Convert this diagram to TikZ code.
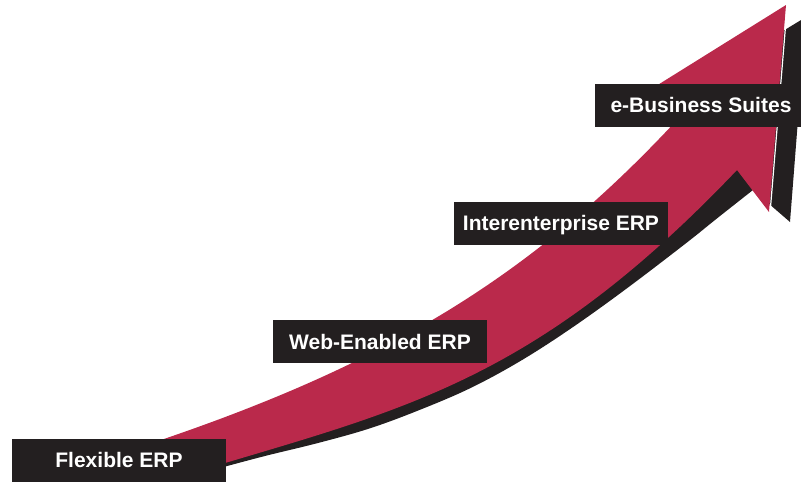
\documentclass[tikz,border=0pt]{standalone}
\usepackage{fontspec}
\setmainfont{Liberation Sans}
\definecolor{arrowred}{RGB}{186,41,75}
\definecolor{inkblack}{RGB}{35,31,32}
\begin{document}
\begin{tikzpicture}[x=1pt,y=-1pt,
  labelbox/.style={fill=inkblack, text=white, font=\fontsize{21}{24}\selectfont\bfseries,
    minimum width=214pt, minimum height=43pt, inner sep=0pt, text height=15pt, text depth=0pt}]
\useasboundingbox (0,0) rectangle (801,482);
\clip (0,0) rectangle (801,482);
% shadow
\fill[inkblack] (806,17) -- (790,222) --
  plot[smooth, tension=0.6] coordinates {(753,190) (717.5,218) (685,244) (626,289) (571.6,328) (520.9,360.7) (471,387.8) (421.2,409.3) (370.3,428.2) (318,443) (263,456.5) (205,472)}
  -- (195,458) -- (400,390) -- (600,285) -- (700,180) -- (760,45) -- cycle;
% red arrow
\fill[arrowred] (140,447) .. controls (390,364.5) and (538,273) .. (688,108)
  -- (640,96) -- (786,5) -- (769,212) -- (737,170)
  .. controls (537,380) and (405,409) .. (205,469) -- cycle;
\draw[white, line width=1.2pt] (787.2,6) -- (770.2,211);
% labels
\node[labelbox] (flex) at (119,460) {Flexible ERP};
\node[labelbox] (web) at (380,341.5) {Web-Enabled ERP};
\node[labelbox] (inter) at (561,223) {Interenterprise ERP};
\node[labelbox, minimum width=212pt] (ebiz) at (701,105) {e-Business Suites};
\end{tikzpicture}
\end{document}
